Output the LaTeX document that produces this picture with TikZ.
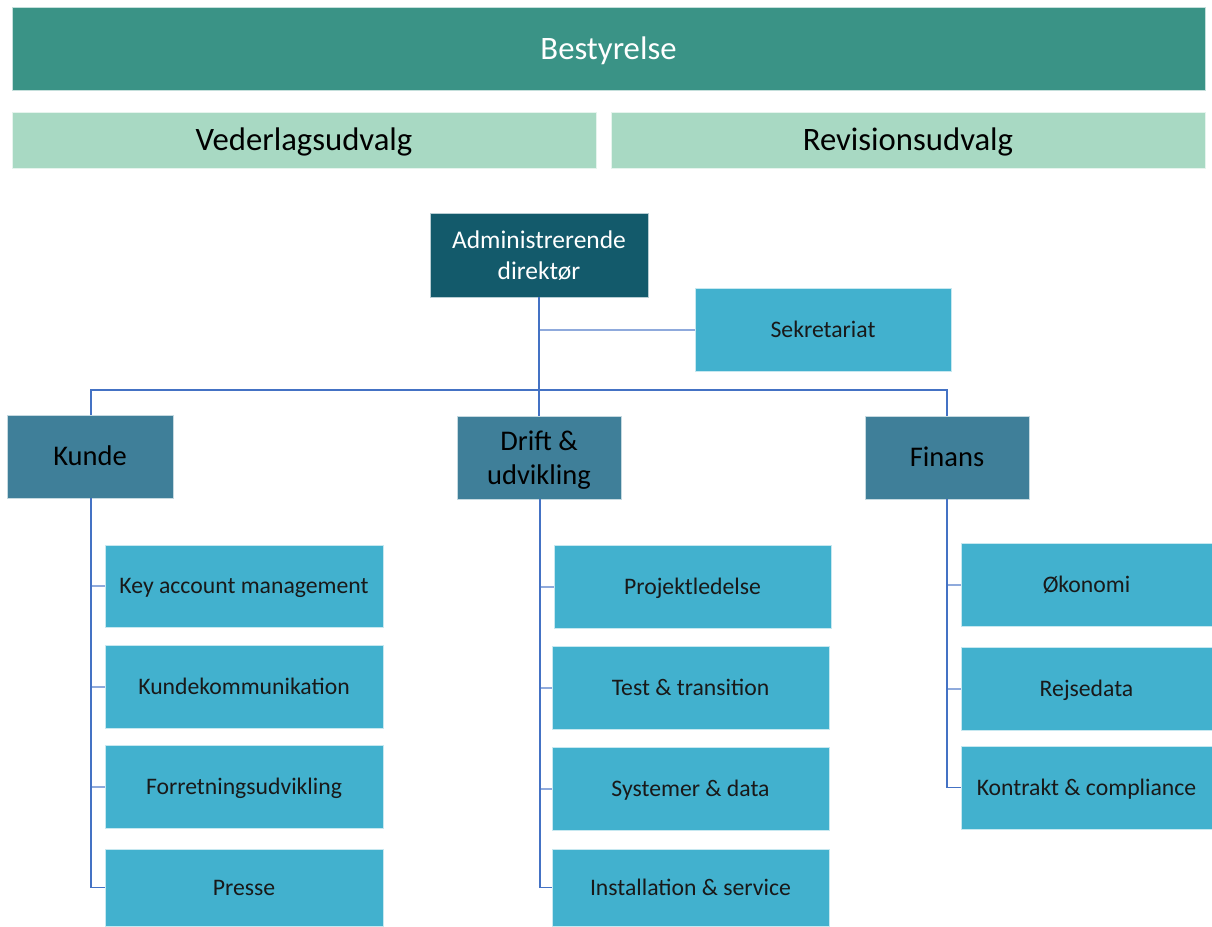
\documentclass[tikz,border=0pt]{standalone}
\usepackage{fontspec}
\setmainfont{Carlito}
\definecolor{board}{HTML}{3A9386}
\definecolor{comm}{HTML}{A8D9C3}
\definecolor{ceo}{HTML}{135A6B}
\definecolor{dept}{HTML}{3F7F99}
\definecolor{leaf}{HTML}{42B1CE}
\definecolor{conn}{HTML}{4472C4}
\definecolor{stub}{HTML}{8FAADC}
\begin{document}
\begin{tikzpicture}[x=1pt,y=-1pt,
  box/.style={rectangle,inner sep=0pt,align=center,draw=white!70!#1,line width=0.6pt,fill=#1},
  boardbox/.style={box=board,text=white,font=\fontsize{32.7}{36}\selectfont,text height=26.2pt,text depth=4.6pt},
  commbox/.style={box=comm,text=black,font=\fontsize{32.7}{36}\selectfont,text height=26.2pt,text depth=4.6pt},
  ceobox/.style={box=ceo,text=white,font=\fontsize{25.5}{31}\selectfont,text height=51.6pt,text depth=3.6pt},
  deptbox/.style={box=dept,text=black,font=\fontsize{28.5}{34}\selectfont,text height=22.8pt,text depth=4pt},
  deptbox2/.style={deptbox,text height=57pt},
  leafbox/.style={box=leaf,text=black!90,font=\fontsize{23.7}{27}\selectfont,text height=19pt,text depth=3.3pt},
  line/.style={draw=conn,line width=1.1pt},
  stubline/.style={draw=stub,line width=2pt}]
\useasboundingbox (0,0) rectangle (1212,926);
\fill[white] (0,0) rectangle (1212,926);
\newcommand\bx[7]{\node[#1,minimum width=#5-#3,minimum height=#6-#4] (#2) at ({(#3+#5)/2},{(#4+#6)/2}) {#7};}
\bx{boardbox}{bst}{12}{7}{1205}{90}{Bestyrelse}
\bx{commbox}{ved}{12}{112}{596}{168}{Vederlagsudvalg}
\bx{commbox}{rev}{611}{112}{1205}{168}{Revisionsudvalg}
\bx{ceobox}{adm}{430}{213}{648}{297}{Administrerende\\direktør}
\bx{leafbox}{sek}{695}{288}{951}{371}{Sekretariat}
\bx{deptbox}{kunde}{7}{415}{173}{498}{Kunde}
\bx{deptbox2}{drift}{457}{416}{621}{499}{Drift \&\\udvikling}
\bx{deptbox}{finans}{865}{416}{1029}{499}{Finans}
\bx{leafbox}{k1}{105}{545}{383}{627}{Key account management}
\bx{leafbox}{k2}{105}{645}{383}{728}{Kundekommunikation}
\bx{leafbox}{k3}{105}{745}{383}{828}{Forretningsudvikling}
\bx{leafbox}{k4}{105}{849}{383}{926}{Presse}
\bx{leafbox}{d1}{554}{545}{831}{628}{Projektledelse}
\bx{leafbox}{d2}{552}{646}{829}{729}{Test \& transition}
\bx{leafbox}{d3}{552}{747}{829}{830}{Systemer \& data}
\bx{leafbox}{d4}{552}{849}{829}{926}{Installation \& service}
\bx{leafbox}{f1}{961}{543}{1212}{626}{Økonomi}
\bx{leafbox}{f2}{961}{647}{1212}{730}{Rejsedata}
\bx{leafbox}{f3}{961}{746}{1212}{829}{Kontrakt \& compliance}
\coordinate (bus) at (540,390);
\coordinate (kx) at (91,0);
\coordinate (dx) at (540,0);
\coordinate (fx) at (947,0);
\draw[stubline] (adm.south |- sek.west) -- (sek.west);
\draw[stubline] (kx |- k1.west) -- (k1.west);
\draw[stubline] (kx |- k2.west) -- (k2.west);
\draw[stubline] (kx |- k3.west) -- (k3.west);
\draw[stubline] (dx |- d1.west) -- (d1.west);
\draw[stubline] (dx |- d2.west) -- (d2.west);
\draw[stubline] (dx |- d3.west) -- (d3.west);
\draw[stubline] (fx |- f1.west) -- (f1.west);
\draw[stubline] (fx |- f2.west) -- (f2.west);
\draw[line] (adm.south) -- (drift.north);
\draw[line] (kx |- kunde.north) |- (bus) -| (fx |- finans.north);
\draw[line] (kx |- kunde.south) |- (k4.west);
\draw[line] (dx |- drift.south) |- (d4.west);
\draw[line] (fx |- finans.south) |- (f3.west);
\end{tikzpicture}
\end{document}
